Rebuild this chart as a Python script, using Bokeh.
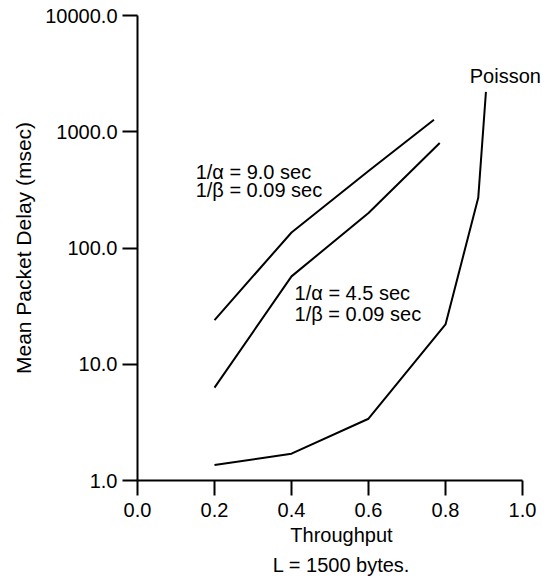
from bokeh.plotting import figure
from bokeh.models import Range1d, FixedTicker, Label, Title
from bokeh.embed import file_html
from bokeh.resources import INLINE

# ---- data ----
x_ticks = [0.0, 0.2, 0.4, 0.6, 0.8, 1.0]
x_tick_labels = ["0.0", "0.2", "0.4", "0.6", "0.8", "1.0"]
y_ticks = [1, 10, 100, 1000, 10000]
y_tick_labels = ["1.0", "10.0", "100.0", "1000.0", "10000.0"]

thr_a9 = [0.2, 0.4, 0.6, 0.77]
delay_a9 = [24, 136, 460, 1270]

thr_a45 = [0.2, 0.4, 0.6, 0.785]
delay_a45 = [6.3, 57, 200, 800]

thr_poisson = [0.2, 0.4, 0.6, 0.8, 0.885, 0.905]
delay_poisson = [1.36, 1.70, 3.4, 22, 270, 2200]

FONT = "Liberation Sans"
FS = "20px"

p = figure(width=545, height=583, output_backend="svg", toolbar_location=None,
           y_axis_type="log", x_range=Range1d(0, 1.0597), y_range=Range1d(1, 10000),
           min_border_left=137, min_border_top=15, min_border_right=0, min_border_bottom=103)
p.outline_line_color = None
p.xgrid.grid_line_color = None
p.ygrid.grid_line_color = None
p.background_fill_color = "white"
p.border_fill_color = "white"

for ax in (p.xaxis[0], p.yaxis[0]):
    ax.axis_line_width = 2
    ax.axis_line_color = "black"
    ax.major_tick_line_width = 2
    ax.major_tick_line_color = "black"
    ax.major_tick_out = 15
    ax.major_tick_in = 0
    ax.minor_tick_line_color = None
    ax.major_label_text_font = FONT
    ax.major_label_text_font_size = FS
    ax.major_label_text_color = "black"
    ax.axis_label_text_font = FONT
    ax.axis_label_text_font_size = FS
    ax.axis_label_text_font_style = "normal"
    ax.axis_label_text_color = "black"

p.xaxis[0].ticker = FixedTicker(ticks=x_ticks)
p.xaxis[0].bounds = (0, 1)
p.xaxis[0].major_label_overrides = dict(zip(x_ticks, x_tick_labels))
p.xaxis[0].major_label_standoff = 7
p.xaxis[0].axis_label = "Throughput"
p.xaxis[0].axis_label_standoff = 4

p.yaxis[0].ticker = FixedTicker(ticks=y_ticks)
p.yaxis[0].major_label_overrides = dict(zip(y_ticks, y_tick_labels))
p.yaxis[0].major_label_standoff = 5
p.yaxis[0].axis_label = "Mean Packet Delay (msec)"
p.yaxis[0].axis_label_text_font_size = "21px"
p.yaxis[0].axis_label_standoff = 7

sub = Title(text="L = 1500 bytes.", align="center", text_font=FONT,
            text_font_size=FS, text_font_style="normal", text_color="black", standoff=6)
p.add_layout(sub, "below")

p.line(thr_a9, delay_a9, line_width=2, line_color="black")
p.line(thr_a45, delay_a45, line_width=2, line_color="black")
p.line(thr_poisson, delay_poisson, line_width=2, line_color="black")

def lab(x, y, t):
    p.add_layout(Label(x=x, y=y, text=t, text_font=FONT, text_font_size=FS,
                       text_color="black", text_baseline="alphabetic", text_align="left"))

lab(0.151, 453, "1/\u03b1 = 9.0 sec")
lab(0.151, 317, "1/\u03b2 = 0.09 sec")
lab(0.408, 41.3, "1/\u03b1 = 4.5 sec")
lab(0.408, 26.9, "1/\u03b2 = 0.09 sec")
lab(0.863, 3035, "Poisson")

open("out.html", "w").write(file_html(p, INLINE))
